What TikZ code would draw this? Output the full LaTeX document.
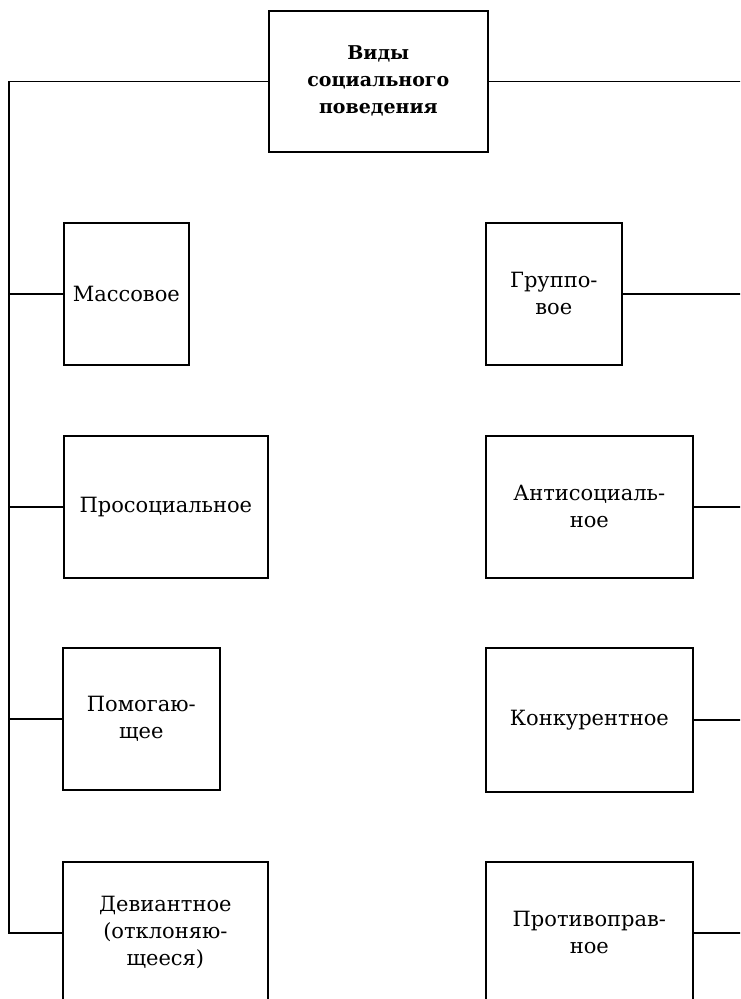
\documentclass[tikz,border=0pt]{standalone}
\usepackage{fontspec}
\setmainfont{DejaVu Serif}
\begin{document}
\begin{tikzpicture}[x=1pt,y=-1pt,
  box/.style={draw=black, line width=1.7pt, rectangle, inner sep=0pt,
    anchor=north west, align=center, minimum height=142pt,
    font=\fontsize{21}{27}\selectfont},
  topbox/.style={box, font=\fontsize{19}{27}\selectfont\bfseries},
  conn/.style={draw=black, line width=1.7pt}]
\path[use as bounding box] (0,0) rectangle (740,999);
\clip (0,0) rectangle (740,999);
\node[topbox, minimum width=219pt, minimum height=141pt] (t) at (268,10) {Виды\\социального\\поведения};
\node[box, minimum width=125pt] (l1) at (63,222) {Массовое};
\node[box, minimum width=204pt] (l2) at (63,435) {Просоциальное};
\node[box, minimum width=157pt] (l3) at (62,647) {Помогаю-\\щее};
\node[box, minimum width=205pt] (l4) at (62,861) {Девиантное\\(отклоняю-\\щееся)};
\node[box, minimum width=136pt] (r1) at (485,222) {Группо-\\вое};
\node[box, minimum width=207pt] (r2) at (485,435) {Антисоциаль-\\ное};
\node[box, minimum width=207pt, minimum height=144pt] (r3) at (485,647) {Конкурентное};
\node[box, minimum width=207pt] (r4) at (485,861) {Противоправ-\\ное};
\coordinate (lx) at (9,0);
\coordinate (rx) at (748,0);
\draw[conn] (t.west) -- (t.west -| lx) -- (l4.west -| lx) -- (l4.west);
\draw[conn] (l1.west -| lx) -- (l1.west);
\draw[conn] (l2.west -| lx) -- (l2.west);
\draw[conn] (l3.west -| lx) -- (l3.west);
\draw[conn] (t.east) -- (t.east -| rx);
\draw[conn] (r1.east) -- (r1.east -| rx);
\draw[conn] (r2.east) -- (r2.east -| rx);
\draw[conn] (r3.east) -- (r3.east -| rx);
\draw[conn] (r4.east) -- (r4.east -| rx);
\end{tikzpicture}
\end{document}
